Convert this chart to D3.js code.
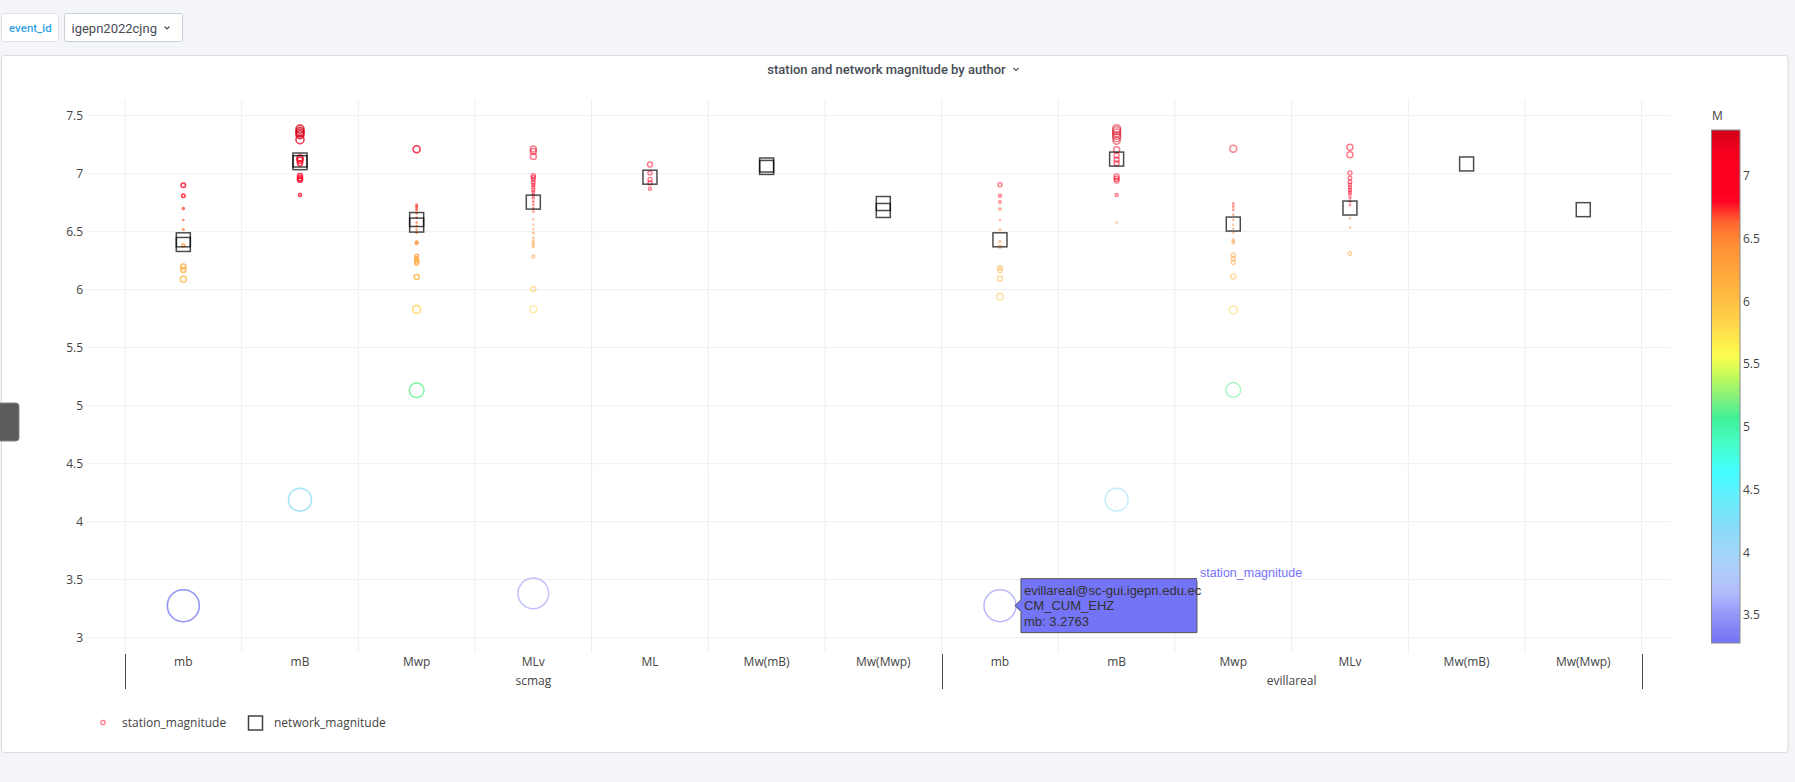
<!DOCTYPE html>
<html><head><meta charset="utf-8">
<script src="https://cdn.jsdelivr.net/npm/d3@7"></script>
<style>html,body{margin:0;padding:0;background:#f4f5f8;overflow:hidden}</style>
</head><body><svg id="c" width="1795" height="782"></svg>
<script>
// ---------------- DATA ----------------
const authors = ["scmag", "evillareal"];
const scmagTypes = ["mb", "mB", "Mwp", "MLv", "ML", "Mw(mB)", "Mw(Mwp)"];
const evillarealTypes = ["mb", "mB", "Mwp", "MLv", "Mw(mB)", "Mw(Mwp)"];

// network magnitudes (one per origin) for every magnitude type
const scmagNetwork = [[6.43, 6.39], [7.118, 7.095], [6.605, 6.557], [6.755], [6.97], [7.075, 7.054], [6.743, 6.683]];
const evillarealNetwork = [[6.43], [7.126], [6.566], [6.704], [7.084], [6.69]];

// station magnitudes: [value, marker size value]
const scmagStation = [
  [[6.90,4.5],[6.81,3.5],[6.70,2],[6.60,1],[6.52,1.5],[6.38,3],[6.20,5],[6.17,5],[6.09,6],[3.2763,32]],
  [[7.385,8],[7.365,8],[7.35,8],[7.336,8],[7.293,8],[7.135,6],[7.115,6],[7.09,5],[6.98,5],[6.96,5],[6.948,5],[6.816,3],[4.19,23]],
  [[7.21,7],[6.73,1.5],[6.71,1.5],[6.69,1.5],[6.66,1],[6.62,1],[6.58,1],[6.55,1],[6.52,1],[6.49,1],[6.41,2.5],[6.40,2.5],[6.29,3.5],[6.27,3.5],[6.25,4],[6.23,4],[6.11,5],[5.83,8],[5.133,14.7]],
  [[7.213,6],[7.192,6],[7.149,6],[6.982,4],[6.968,4],[6.948,3.5],[6.925,3.5],[6.905,3],[6.885,3],[6.862,3],[6.842,2.5],[6.818,2.5],[6.79,2],[6.76,1.5],[6.732,1.5],[6.703,1.5],[6.674,1.5],[6.608,1],[6.56,1],[6.522,1],[6.488,1.5],[6.445,1.5],[6.416,2],[6.396,2],[6.373,2],[6.286,3],[6.007,5],[5.832,7],[3.382,30.7]],
  [[7.08,5],[7.005,4],[6.95,4],[6.92,4],[6.87,3]],
  [],
  []
];
const evillarealStation = [
  [[6.905,4],[6.81,3],[6.755,2.5],[6.695,2],[6.60,1],[6.52,1.5],[6.415,2],[6.37,3],[6.19,4.5],[6.165,4.5],[6.094,5],[5.94,6.5],[3.2763,32]],
  [[7.388,8],[7.37,8],[7.35,8],[7.33,8],[7.31,8],[7.284,7],[7.207,6],[7.157,5],[7.12,5],[7.09,5],[6.976,5],[6.956,5],[6.94,4.5],[6.816,3],[6.58,1],[4.19,23]],
  [[7.215,7],[6.743,1.5],[6.717,1.5],[6.689,1.5],[6.646,1],[6.603,1],[6.56,1],[6.525,1],[6.488,1],[6.427,2.5],[6.407,2.5],[6.30,4],[6.266,4],[6.234,4],[6.113,5],[5.826,8],[5.136,14.7]],
  [[7.227,6],[7.163,6],[7.005,4],[6.962,3.5],[6.928,3.5],[6.905,3],[6.88,3],[6.86,3],[6.84,2.5],[6.82,2.5],[6.79,2],[6.76,1.5],[6.73,1.5],[6.617,1],[6.536,1],[6.312,3.5]],
  [],
  []
];

const yTicks = [3, 3.5, 4, 4.5, 5, 5.5, 6, 6.5, 7, 7.5];
const colorbarTicks = [3.5, 4, 4.5, 5, 5.5, 6, 6.5, 7];
const colorRange = [3.2763, 7.366];
const colorStopValues = [3.2763, 3.45, 3.7, 3.95, 4.2, 4.65, 4.9, 5.06, 5.25, 5.42, 5.57, 5.8, 6.1, 6.45, 6.62, 6.74, 6.8, 7.15, 7.366];
const colorStopColors = ["#7474f6","#8c8cf8","#b4c0fc","#a8d4f8","#88dcfa","#42fefe","#46fcbe","#3cf09a","#8cf07a","#c8fc58","#fefe50","#ffd84a","#ffb440","#ff9036","#ff6a30","#ff2a28","#ff0022","#fb0020","#d20018"];
const hoverLines = ["evillareal@sc-gui.igepn.edu.ec", "CM_CUM_EHZ", "mb: 3.2763"];
const hoverTarget = {author: 1, type: 0, value: 3.2763, size: 32};

// ---------------- BUILD ----------------
const cats = [];
authors.forEach((a, ai) => {
  const types = ai === 0 ? scmagTypes : evillarealTypes;
  const net = ai === 0 ? scmagNetwork : evillarealNetwork;
  const st = ai === 0 ? scmagStation : evillarealStation;
  types.forEach((t, ti) => cats.push({key: a + "|" + t, author: a, ai, ti, type: t, net: net[ti], st: st[ti]}));
});

const svg = d3.select("#c");
const FONT = "'Open Sans', verdana, arial, sans-serif";

// page chrome
svg.append("rect").attr("width", 1795).attr("height", 782).attr("fill", "#f4f5f8");
svg.append("rect").attr("x", 1.5).attr("y", 55.5).attr("width", 1786.5).attr("height", 697).attr("rx", 3)
  .attr("fill", "#fff").attr("stroke", "rgba(36,41,46,0.14)");
// variable picker
svg.append("rect").attr("x", 1.5).attr("y", 13.5).attr("width", 57).attr("height", 28).attr("rx", 2)
  .attr("fill", "#fff").attr("stroke", "#dfe2e6");
svg.append("text").attr("x", 9).attr("y", 32).attr("font-family", "Roboto, sans-serif").attr("font-weight", 500)
  .attr("font-size", 11.5).attr("fill", "#33a2e5").text("event_id");
svg.append("rect").attr("x", 64.5).attr("y", 13.5).attr("width", 118).attr("height", 28).attr("rx", 2)
  .attr("fill", "#fff").attr("stroke", "#c7d0d9");
svg.append("text").attr("x", 71.5).attr("y", 32.5).attr("font-family", "Roboto, sans-serif")
  .attr("font-size", 13).attr("fill", "#464c54").text("igepn2022cjng");
svg.append("path").attr("d", "M164.5,26.5 L167,29 L169.5,26.5").attr("fill", "none").attr("stroke", "#464c54").attr("stroke-width", 1.2);
// left handle
svg.append("rect").attr("x", -4).attr("y", 403).attr("width", 23).attr("height", 38).attr("rx", 3)
  .attr("fill", "#5b5b5b").attr("stroke", "#888");
// panel title
svg.append("text").attr("x", 886.5).attr("y", 73.5).attr("text-anchor", "middle")
  .attr("font-family", "Roboto, sans-serif").attr("font-weight", 500).attr("font-size", 13)
  .attr("fill", "#464c54").text("station and network magnitude by author");
svg.append("path").attr("d", "M1013.5,68 L1016,70.5 L1018.5,68").attr("fill", "none").attr("stroke", "#464c54").attr("stroke-width", 1.1);

// scales
const plot = {x0: 86, x1: 1671, y0: 99, y1: 653};
const x = d3.scaleBand().domain(cats.map(c => c.key)).range([125, 1641.6]).padding(0);
const y = d3.scaleLinear().domain([2.868, 7.644]).range([plot.y1, plot.y0]);
const color = d3.scaleLinear().domain(colorStopValues).range(colorStopColors).interpolate(d3.interpolateRgb).clamp(true);

// gridlines
const grid = svg.append("g");
grid.selectAll("line.h").data(yTicks).join("line")
  .attr("x1", plot.x0).attr("x2", plot.x1).attr("y1", d => y(d)).attr("y2", d => y(d))
  .attr("stroke", "#eee").attr("stroke-width", 1);
const bounds = cats.map(c => x(c.key)).concat([x.range()[1]]);
grid.selectAll("line.v").data(bounds).join("line")
  .attr("x1", d => d).attr("x2", d => d).attr("y1", plot.y0).attr("y2", plot.y1)
  .attr("stroke", "#eee").attr("stroke-width", 1);

// y axis
const yAxis = svg.append("g").attr("transform", "translate(83,0)")
  .call(d3.axisLeft(y).tickValues(yTicks).tickSize(0).tickPadding(0).tickFormat(d => d));
yAxis.select(".domain").remove();
yAxis.selectAll("text").attr("font-family", FONT).attr("font-size", 12).attr("fill", "#444");

// x multicategory axis
const xAxis = svg.append("g").attr("transform", `translate(0,${plot.y1})`)
  .call(d3.axisBottom(x).tickSize(0).tickPadding(4).tickFormat(k => k.split("|")[1]));
xAxis.select(".domain").remove();
xAxis.selectAll("text").attr("font-family", FONT).attr("font-size", 12).attr("fill", "#444");
authors.forEach((a, ai) => {
  const ks = cats.filter(c => c.ai === ai).map(c => c.key);
  const s = x(ks[0]), e = x(ks[ks.length - 1]) + x.bandwidth();
  svg.append("text").attr("x", (s + e) / 2).attr("y", 685).attr("text-anchor", "middle")
    .attr("font-family", FONT).attr("font-size", 12).attr("fill", "#444").text(a);
});
const dividers = [x(cats[0].key), x(cats.find(c => c.ai === 1).key), x.range()[1]];
svg.selectAll("line.div").data(dividers).join("line")
  .attr("x1", d => Math.round(d) + 0.5).attr("x2", d => Math.round(d) + 0.5).attr("y1", 654).attr("y2", 689)
  .attr("stroke", "#444").attr("stroke-width", 1);

// station magnitude markers (drawn once per origin)
const stationPts = [];
cats.forEach(c => {
  const n = Math.max(1, c.net.length);
  for (let o = 0; o < n; o++) c.st.forEach(p => stationPts.push({key: c.key, v: p[0], s: p[1]}));
});
svg.append("g").selectAll("circle").data(stationPts).join("circle")
  .attr("cx", d => x(d.key) + x.bandwidth() / 2).attr("cy", d => y(d.v)).attr("r", d => d.s / 2)
  .attr("fill", "none").attr("stroke", d => color(d.v)).attr("stroke-width", 1.5).attr("stroke-opacity", 0.5);

// network magnitude markers
const netPts = [];
cats.forEach(c => c.net.forEach(v => netPts.push({key: c.key, v})));
const SQ = 14;
svg.append("g").selectAll("rect").data(netPts).join("rect")
  .attr("x", d => x(d.key) + x.bandwidth() / 2 - SQ / 2).attr("y", d => y(d.v) - SQ / 2)
  .attr("width", SQ).attr("height", SQ)
  .attr("fill", "none").attr("stroke", "#000").attr("stroke-width", 1.5).attr("stroke-opacity", 0.7);

// colorbar
const cb = {x: 1711.5, w: 28.5, top: 130, bottom: 643};
const cy = d3.scaleLinear().domain(colorRange).range([cb.bottom, cb.top]);
const defs = svg.append("defs");
const grad = defs.append("linearGradient").attr("id", "cbg").attr("x1", 0).attr("x2", 0).attr("y1", 1).attr("y2", 0);
d3.range(0, 1.0001, 0.02).forEach(t => {
  const v = colorRange[0] + t * (colorRange[1] - colorRange[0]);
  grad.append("stop").attr("offset", t).attr("stop-color", color(v));
});
svg.append("rect").attr("x", cb.x).attr("y", cb.top).attr("width", cb.w).attr("height", cb.bottom - cb.top)
  .attr("fill", "url(#cbg)").attr("stroke", "#8a8a8a").attr("stroke-width", 1);
const cbAxis = svg.append("g").attr("transform", `translate(${cb.x + cb.w + 3},0)`)
  .call(d3.axisRight(cy).tickValues(colorbarTicks).tickSize(0).tickPadding(0).tickFormat(d => d));
cbAxis.select(".domain").remove();
cbAxis.selectAll("text").attr("font-family", FONT).attr("font-size", 12).attr("fill", "#444");
svg.append("text").attr("x", 1712).attr("y", 120).attr("font-family", FONT).attr("font-size", 12).attr("fill", "#444").text("M");

// legend
const lg = svg.append("g");
lg.append("circle").attr("cx", 103).attr("cy", 722.5).attr("r", 2.2).attr("fill", "none")
  .attr("stroke", color(7.0)).attr("stroke-opacity", 0.55).attr("stroke-width", 1.2);
lg.append("text").attr("x", 122).attr("y", 727).attr("font-family", FONT).attr("font-size", 12).attr("fill", "#444").text("station_magnitude");
lg.append("rect").attr("x", 248.5).attr("y", 716).attr("width", 14).attr("height", 14)
  .attr("fill", "none").attr("stroke", "#000").attr("stroke-opacity", 0.75).attr("stroke-width", 1.5);
lg.append("text").attr("x", 274).attr("y", 727).attr("font-family", FONT).attr("font-size", 12).attr("fill", "#444").text("network_magnitude");

// hover label
const hc = cats.find(c => c.ai === hoverTarget.author && c.ti === hoverTarget.type);
const hx = x(hc.key) + x.bandwidth() / 2 + hoverTarget.size / 2 - 1;
const hy = y(hoverTarget.value);
const hcol = color(hoverTarget.value);
const hg = svg.append("g").attr("transform", `translate(${hx},${hy})`);
const bw = 176, bh = 54;
hg.append("path")
  .attr("d", `M0,0 L6,-6 L6,${-bh / 2} L${6 + bw},${-bh / 2} L${6 + bw},${bh / 2} L6,${bh / 2} L6,6 Z`)
  .attr("fill", hcol).attr("stroke", "#555").attr("stroke-width", 1);
hg.selectAll("text.hl").data(hoverLines).join("text")
  .attr("x", 9).attr("y", (d, i) => -11 + i * 15.5)
  .attr("font-family", "'Liberation Sans', Arial, sans-serif").attr("font-size", 13).attr("fill", "#333").text(d => d);
hg.append("rect").attr("x", bw + 6).attr("y", -bh / 2 - 12).attr("width", 106).attr("height", 14).attr("fill", "#fff");
hg.append("text").attr("x", bw + 9).attr("y", -bh / 2 - 1.5)
  .attr("font-family", "'Liberation Sans', Arial, sans-serif").attr("font-size", 12.5).attr("fill", hcol).text("station_magnitude");
</script></body></html>
